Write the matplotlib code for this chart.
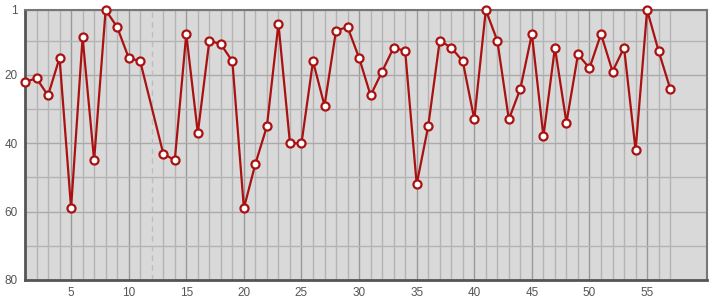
import numpy as np
import matplotlib
matplotlib.use("Agg")
import matplotlib.pyplot as plt
from matplotlib.ticker import FixedLocator

plt.rcParams['font.family'] = ['Liberation Sans', 'DejaVu Sans']

# positions (x=12 missing)
days = [1, 2, 3, 4, 5, 6, 7, 8, 9, 10, 11,
        13, 14, 15, 16, 17, 18, 19, 20, 21, 22, 23, 24, 25, 26, 27, 28, 29, 30,
        31, 32, 33, 34, 35, 36, 37, 38, 39, 40, 41, 42, 43, 44, 45, 46, 47, 48,
        49, 50, 51, 52, 53, 54, 55, 56, 57]
ranks = [22, 21, 26, 15, 59, 9, 45, 1, 6, 15, 16,
         43, 45, 8, 37, 10, 11, 16, 59, 46, 35, 5, 40, 40, 16, 29, 7, 6, 15,
         26, 19, 12, 13, 52, 35, 10, 12, 16, 33, 1, 10, 33, 24, 8, 38, 12, 34,
         14, 18, 8, 19, 12, 42, 1, 13, 24]
gap_day = 12
x_major = [5, 10, 15, 20, 25, 30, 35, 40, 45, 50, 55]
y_major = [1, 20, 40, 60, 80]
y_minor = [10, 30, 50, 70]

fig = plt.figure(figsize=(7.15, 3.0), dpi=100)
ax = fig.add_axes([25 / 715, 20 / 300, 682 / 715, 270 / 300])
ax.set_facecolor("#d9d9d9")

ax.set_xlim(1, 60.2)
ax.set_ylim(80, 1)

ax.xaxis.set_major_locator(FixedLocator(x_major))
ax.xaxis.set_minor_locator(FixedLocator([d for d in days if d not in x_major]))
ax.yaxis.set_major_locator(FixedLocator(y_major))
ax.yaxis.set_minor_locator(FixedLocator(y_minor))

ax.grid(which="major", axis="x", color="#999999", lw=1)
ax.grid(which="minor", axis="x", color="#b4b4b4", lw=1)
ax.grid(which="major", axis="y", color="#aaaaaa", lw=1)
ax.grid(which="minor", axis="y", color="#b4b4b4", lw=1)
ax.axvline(gap_day, color="#bdbdbd", lw=1, ls=(0, (4, 3)))
ax.set_axisbelow(True)

ax.tick_params(which="both", length=0, labelsize=8.5, colors="#555555", pad=5)
for s in ax.spines.values():
    s.set_color("#777777")
    s.set_linewidth(1.5)
ax.spines["left"].set_color("#555555")
ax.spines["bottom"].set_color("#555555")
ax.spines["left"].set_linewidth(2)
ax.spines["bottom"].set_linewidth(2)

ax.plot(days, ranks, color="#aa1111", lw=1.6, marker="o", markersize=5.8,
        markerfacecolor="white", markeredgecolor="#aa1111", markeredgewidth=1.6,
        clip_on=False, zorder=3)

fig.savefig("out.png", dpi=100)
